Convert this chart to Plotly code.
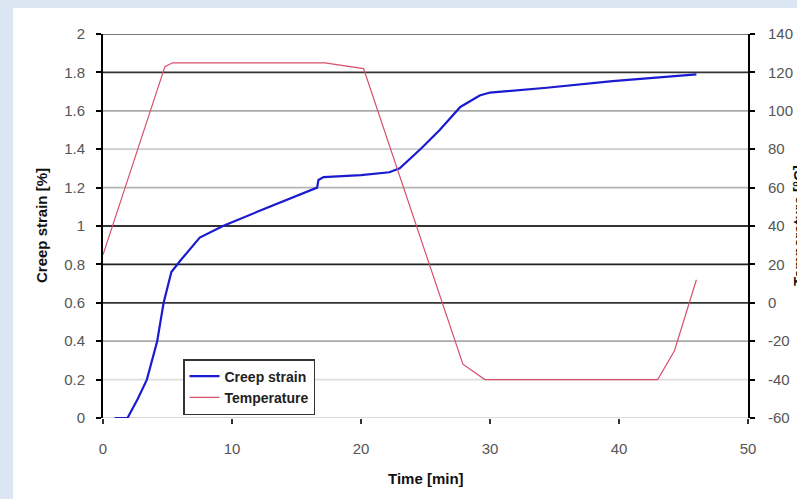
import plotly.graph_objects as go

# ---- data ----
time_strain = [0.9, 1.9, 2.7, 3.4, 4.2, 4.7, 5.3, 6.0, 7.5, 9.3, 12.0, 14.0, 16.6,
               16.7, 17.1, 20.0, 22.2, 23.0, 24.6, 26.1, 27.7, 29.2, 30.0, 34.4, 39.5, 46.0]
creep_strain = [0.0, 0.0, 0.1, 0.2, 0.4, 0.6, 0.76, 0.82, 0.94, 1.0, 1.075, 1.13, 1.20,
                1.24, 1.255, 1.265, 1.28, 1.30, 1.40, 1.50, 1.62, 1.68, 1.695, 1.72, 1.755, 1.79]

time_temp = [0.0, 4.8, 5.4, 17.2, 20.2, 27.9, 29.6, 43.0, 44.3, 46.0]
temperature = [25, 123, 125, 125, 122, -32, -40, -40, -25, 12]

grid_values = [0.0, 0.2, 0.4, 0.6, 0.8, 1.0, 1.2, 1.4, 1.6, 1.8, 2.0]
grid_colors = ["#d8d8d8", "#dddddd", "#aaaaaa", "#333333", "#222222", "#333333",
               "#b5b5b5", "#cccccc", "#aaaaaa", "#333333", "#777777"]

x_ticks = [0, 10, 20, 30, 40, 50]
left_ticks = [0.0, 0.2, 0.4, 0.6, 0.8, 1.0, 1.2, 1.4, 1.6, 1.8, 2.0]
left_tick_labels = ["0", "0.2", "0.4", "0.6", "0.8", "1", "1.2", "1.4", "1.6", "1.8", "2"]
right_ticks = [-60, -40, -20, 0, 20, 40, 60, 80, 100, 120, 140]
right_tick_labels = ["-60", "-40", "-20", "0", "20", "40", "60", "80", "100", "120", "140"]

FONT = "Liberation Sans"
W, H = 797, 499
L, R, T, B = 103, 49, 34, 81
PW, PH = W - L - R, H - T - B

fig = go.Figure()
fig.add_trace(go.Scatter(x=time_strain, y=creep_strain, mode="lines", name="Creep strain",
                         line=dict(color="#1a1ad0", width=2.2), yaxis="y"))
fig.add_trace(go.Scatter(x=time_temp, y=temperature, mode="lines", name="Temperature",
                         line=dict(color="#d8506a", width=1.2), yaxis="y2"))

shapes = [dict(type="rect", xref="paper", yref="paper",
               x0=(13 - L) / PW, x1=(W + 5 - L) / PW,
               y0=-(B + 5) / PH, y1=1 + (T - 8) / PH,
               fillcolor="white", line=dict(width=0), layer="below")]
for v, c in zip(grid_values, grid_colors):
    shapes.append(dict(type="line", xref="paper", yref="y", x0=0, x1=1, y0=v, y1=v,
                       line=dict(color=c, width=1.8), layer="below"))

tickfont = dict(family=FONT, size=15, color="#555555")

fig.update_layout(
    width=W, height=H,
    margin=dict(l=L, r=R, t=T, b=B, pad=0),
    paper_bgcolor="#dde7f4", plot_bgcolor="white",
    template="none",
    showlegend=True,
    shapes=shapes,
    xaxis=dict(range=[0, 50], tickvals=x_ticks, ticks="outside", ticklen=5, tickwidth=1.5,
               tickcolor="#333333", showgrid=False, zeroline=False, showline=False,
               tickfont=tickfont, ticklabelstandoff=12, automargin=False, fixedrange=True),
    yaxis=dict(range=[0, 2], tickvals=left_ticks, ticktext=left_tick_labels, ticks="outside",
               ticklen=5, tickwidth=1.5, tickcolor="black", showgrid=False, zeroline=False,
               showline=True, linecolor="black", linewidth=2, tickfont=tickfont,
               ticklabelstandoff=8, automargin=False),
    yaxis2=dict(range=[-60, 140], tickvals=right_ticks, ticktext=right_tick_labels,
                overlaying="y", side="right", ticks="outside", ticklen=5, tickwidth=1.5,
                tickcolor="black", showgrid=False, zeroline=False, showline=True,
                linecolor="black", linewidth=2, tickfont=tickfont, ticklabelstandoff=10,
                automargin=False),
    legend=dict(x=(183 - L) / PW, y=(418 - 359) / PH, xanchor="left", yanchor="top",
                bgcolor="white", bordercolor="#333333", borderwidth=1.5,
                font=dict(family=FONT, size=14, color="#222222", weight="bold"),
                tracegroupgap=0),
    annotations=[
        dict(text="Time [min]", xref="paper", yref="paper", x=0.5, y=-(478 - 418) / PH,
             xanchor="center", yanchor="middle", showarrow=False,
             font=dict(family=FONT, size=15, color="#111111", weight="bold")),
        dict(text="Creep strain [%]", xref="paper", yref="paper", x=(41 - L) / PW, y=0.5,
             xanchor="center", yanchor="middle", showarrow=False, textangle=-90,
             font=dict(family=FONT, size=15, color="#111111", weight="bold")),
        dict(text="Temperature [°C]", xref="paper", yref="paper", x=(798 - L) / PW, y=0.5,
             xanchor="center", yanchor="middle", showarrow=False, textangle=-90,
             font=dict(family=FONT, size=15, color="#111111", weight="bold")),
    ],
)

fig.write_html("out.html",
               config={"displayModeBar": False},
               post_script="document.body.style.margin='0';"
                           "document.body.style.overflow='hidden';")
